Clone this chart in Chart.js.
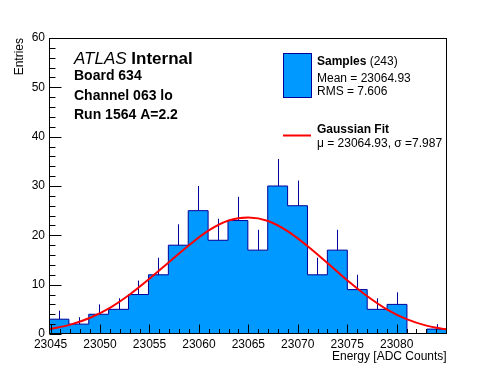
<!DOCTYPE html>
<html lang="en">
<head>
<meta charset="UTF-8">
<title>Energy histogram</title>
<script src="https://cdn.jsdelivr.net/npm/chart.js"></script>
<style>
  body { margin: 0; background: #fff; }
  canvas { display: block; }
</style>
</head>
<body>
<canvas id="histChart" width="496" height="372"></canvas>
<script>
// 20 bins, low edges plus the last high edge (ADC counts)
const binEdges = [23044.84, 23046.85, 23048.86, 23050.87, 23052.88, 23054.90, 23056.91,
  23058.92, 23060.93, 23062.94, 23064.95, 23066.96, 23068.97, 23070.98, 23072.99,
  23075.01, 23077.02, 23079.03, 23081.04, 23083.05, 23085.06];
const counts = [3, 2, 4, 5, 8, 12, 18, 25, 19, 23, 17, 30, 26, 12, 17, 9, 5, 6, 0, 1];
const errors = [1.73, 1.41, 2.00, 2.24, 2.83, 3.46, 4.24, 5.00, 4.36, 4.80, 4.12, 5.48,
  5.10, 3.46, 4.12, 3.00, 2.24, 2.45, 0, 1.00];

// gaussian fit curve
const fitX = [23044.9, 23047, 23049, 23051, 23053, 23055, 23057, 23059, 23061, 23063, 23065,
  23067, 23069, 23071, 23073, 23075, 23077, 23079, 23081, 23083, 23085];
const fitY = [0.95, 1.9, 3.3, 5.3, 8.0, 11.2, 14.6, 18.0, 21.0, 23.0, 23.6,
  22.9, 20.8, 17.8, 14.4, 10.9, 7.7, 5.0, 3.0, 1.7, 0.95];

const xLabels = [23045, 23050, 23055, 23060, 23065, 23070, 23075, 23080];
const infoLines = ['Board 634', 'Channel 063 lo', 'Run 1564 A=2.2'];

const FONT = '"Liberation Sans", Arial, sans-serif';
const FILL = '#0099ff';
const EDGE = '#000099';

// step outline for the histogram
const histPoints = [{ x: binEdges[0], y: 0 }];
counts.forEach((c, i) => histPoints.push({ x: binEdges[i], y: c }));
histPoints.push({ x: binEdges[counts.length], y: counts[counts.length - 1] });
histPoints.push({ x: binEdges[counts.length], y: 0 });

const fitPoints = fitX.map((x, i) => ({ x: x, y: fitY[i] }));

const errorBars = {
  id: 'errorBars',
  afterDatasetDraw(chart, args) {
    if (args.index !== 0) return;
    const { ctx, chartArea: a, scales: { x, y } } = chart;
    ctx.save();
    ctx.beginPath();
    ctx.rect(a.left, a.top, a.right - a.left, a.bottom - a.top);
    ctx.clip();
    ctx.strokeStyle = EDGE;
    ctx.lineWidth = 1;
    ctx.beginPath();
    counts.forEach((c, i) => {
      if (!errors[i]) return;
      const px = Math.round(x.getPixelForValue((binEdges[i] + binEdges[i + 1]) / 2)) + 0.5;
      ctx.moveTo(px, y.getPixelForValue(c));
      ctx.lineTo(px, y.getPixelForValue(c + errors[i]));
    });
    ctx.stroke();
    ctx.restore();
  }
};

const frameAndText = {
  id: 'frameAndText',
  afterDraw(chart) {
    const { ctx, chartArea: a, scales: { x, y } } = chart;
    ctx.save();
    ctx.strokeStyle = '#000';
    ctx.lineWidth = 1;
    const L = Math.round(a.left) + 0.5, R = Math.round(a.right) - 0.5;
    const T = Math.round(a.top) + 0.5, B = Math.round(a.bottom) - 0.5;
    ctx.beginPath();
    y.ticks.forEach(t => {
      const py = Math.round(y.getPixelForValue(t.value)) + 0.5;
      const len = t.value % 10 === 0 ? 12 : 6;
      ctx.moveTo(L, py);
      ctx.lineTo(L + len, py);
    });
    x.ticks.forEach(t => {
      const px = Math.round(x.getPixelForValue(t.value)) + 0.5;
      const len = t.value % 5 === 0 ? 9 : 4.5;
      ctx.moveTo(px, B);
      ctx.lineTo(px, B - len);
    });
    ctx.stroke();
    ctx.strokeRect(L, T, R - L, B - T);

    // ATLAS label block
    ctx.fillStyle = '#000';
    ctx.textBaseline = 'alphabetic';
    ctx.textAlign = 'left';
    ctx.font = 'italic 17px ' + FONT;
    ctx.fillText('ATLAS', 74, 64);
    const w = ctx.measureText('ATLAS ').width;
    ctx.font = 'bold 17px ' + FONT;
    ctx.fillText('Internal', 74 + w, 64);
    ctx.font = 'bold 14px ' + FONT;
    infoLines.forEach((s, i) => ctx.fillText(s, 74, 80 + i * 19.5));

    // legend
    ctx.fillStyle = FILL;
    ctx.fillRect(283, 53, 28, 44);
    ctx.strokeStyle = EDGE;
    ctx.strokeRect(283.5, 53.5, 28, 44);
    ctx.fillStyle = '#000';
    ctx.font = 'bold 12px ' + FONT;
    ctx.fillText('Samples', 317, 65);
    const sw = ctx.measureText('Samples').width;
    ctx.font = '12px ' + FONT;
    ctx.fillText(' (243)', 317 + sw, 65);
    ctx.fillText('Mean = 23064.93', 317, 81.5);
    ctx.fillText('RMS = 7.606', 317, 94.5);

    ctx.strokeStyle = '#ff0000';
    ctx.lineWidth = 2;
    ctx.beginPath();
    ctx.moveTo(283, 135.5);
    ctx.lineTo(311, 135.5);
    ctx.stroke();
    ctx.font = 'bold 12px ' + FONT;
    ctx.fillText('Gaussian Fit', 317, 133);
    ctx.font = '12px ' + FONT;
    ctx.fillText('\u03bc = 23064.93, \u03c3 =7.987', 317, 146.5);
    ctx.restore();
  }
};

new Chart(document.getElementById('histChart'), {
  type: 'line',
  data: {
    datasets: [
      {
        data: histPoints,
        stepped: 'before',
        fill: 'origin',
        backgroundColor: FILL,
        borderColor: EDGE,
        borderWidth: 1,
        pointRadius: 0,
        order: 2
      },
      {
        data: fitPoints,
        borderColor: '#ff0000',
        borderWidth: 2,
        pointRadius: 0,
        fill: false,
        cubicInterpolationMode: 'monotone',
        order: 1
      }
    ]
  },
  options: {
    responsive: false,
    animation: false,
    layout: { padding: { top: 38, right: 49.3, left: 0, bottom: 0 } },
    plugins: { legend: { display: false }, tooltip: { enabled: false } },
    scales: {
      x: {
        type: 'linear',
        min: 23044.84,
        max: 23085.06,
        grid: { display: false, drawTicks: false },
        border: { display: false },
        ticks: {
          stepSize: 1,
          includeBounds: false,
          autoSkip: false,
          maxRotation: 0,
          minRotation: 0,
          padding: 3,
          color: '#000',
          font: { family: FONT, size: 12 },
          callback: v => (xLabels.includes(v) ? String(v) : '')
        },
        title: {
          display: true,
          text: 'Energy [ADC Counts]',
          align: 'end',
          color: '#000',
          font: { family: FONT, size: 12 },
          padding: { top: 0, bottom: 8 }
        },
        afterFit: s => { s.height = 38; }
      },
      y: {
        min: 0,
        max: 60,
        grid: { display: false, drawTicks: false },
        border: { display: false },
        ticks: {
          stepSize: 2,
          autoSkip: false,
          padding: 4,
          color: '#000',
          font: { family: FONT, size: 12 },
          callback: v => (v % 10 === 0 ? String(v) : '')
        },
        title: {
          display: true,
          text: 'Entries',
          align: 'end',
          color: '#000',
          font: { family: FONT, size: 12 },
          padding: { top: 12, bottom: 0 }
        },
        afterFit: s => { s.width = 49; }
      }
    }
  },
  plugins: [errorBars, frameAndText]
});
</script>
</body>
</html>
